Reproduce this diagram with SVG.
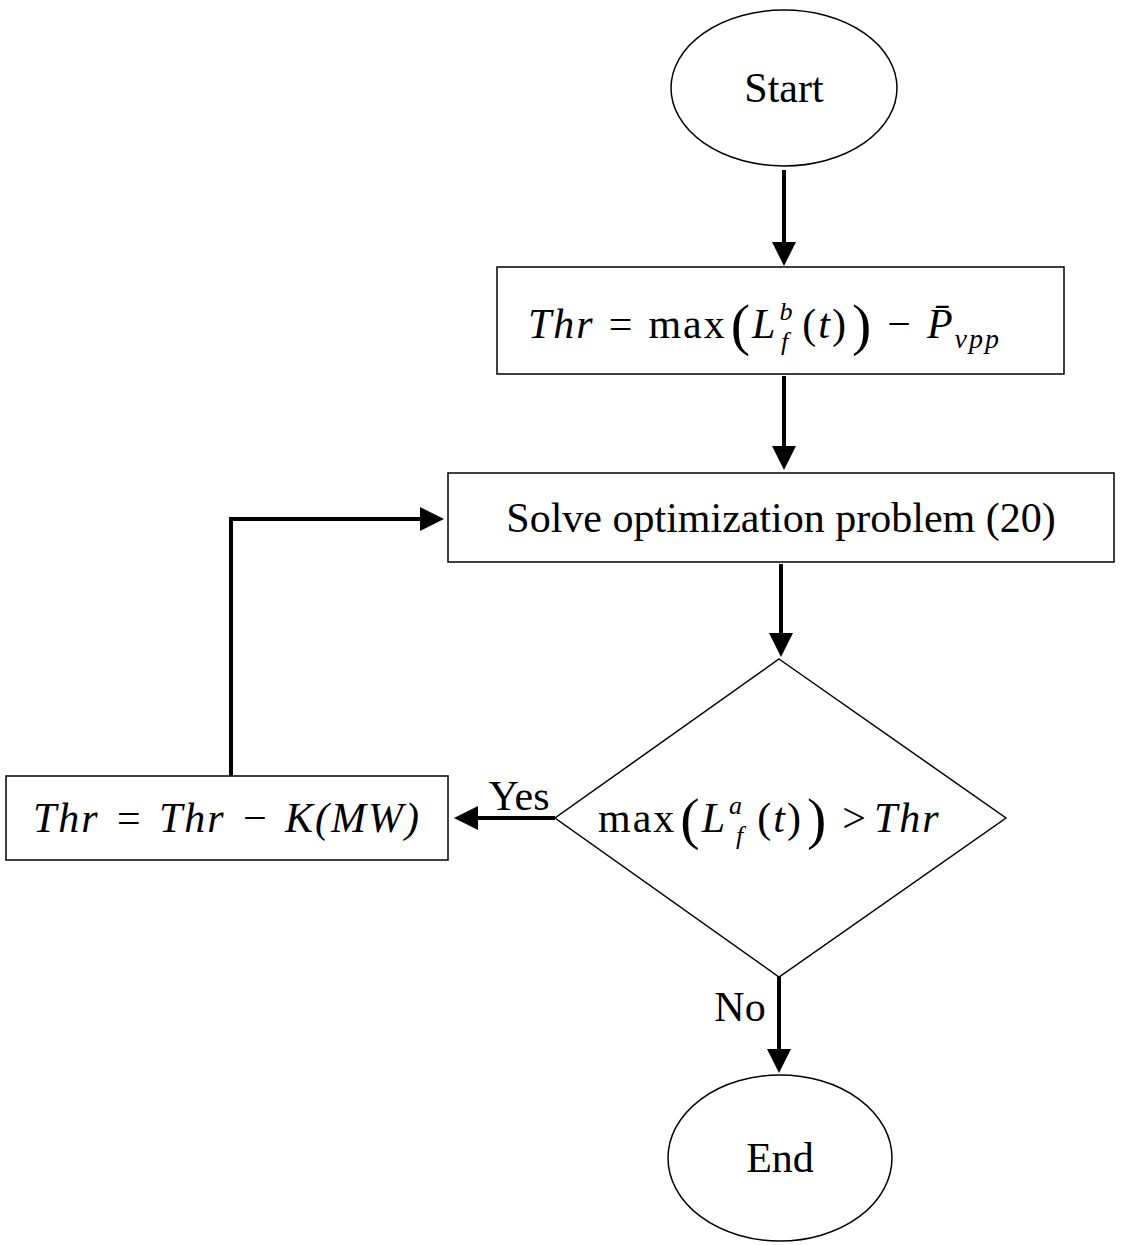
<svg xmlns="http://www.w3.org/2000/svg" width="1121" height="1245" viewBox="0 0 1121 1245">
<style>
.s{fill:#fff;stroke:#000;stroke-width:1.5}
.t{font-family:"Liberation Serif",serif;font-size:42px;fill:#000}
.m{font-family:"Liberation Serif",serif;font-size:42px;fill:#000;letter-spacing:2px}
.i{font-style:italic}
.c{fill:none;stroke:#000;stroke-width:4}
</style>
<defs><marker id="a" markerWidth="6" markerHeight="6" refX="5" refY="3" orient="auto" markerUnits="strokeWidth"><path d="M0,0L6,3L0,6z" fill="#000"/></marker></defs>
<rect width="1121" height="1245" fill="#fff"/>
<g id="start"><ellipse class="s" cx="784" cy="88" rx="113" ry="78"/><text class="t" x="784" y="102" text-anchor="middle">Start</text></g>
<g id="thr"><rect class="s" x="497" y="267" width="567" height="107"/>
<text class="m" x="528" y="338"><tspan class="i">Thr</tspan><tspan dx="14">=</tspan><tspan dx="14">max</tspan><tspan font-size="58" dx="4" dy="6">(</tspan><tspan class="i" dy="-6">L</tspan><tspan class="i" font-size="26" dx="2" dy="-18">b</tspan></text>
<text class="m" x="781" y="350"><tspan class="i" font-size="26">f</tspan><tspan dx="12" dy="-12">(</tspan><tspan class="i">t</tspan>)<tspan font-size="58" dx="4" dy="6">)</tspan><tspan dx="14" dy="-6">−</tspan><tspan class="i" dx="14">P̄</tspan><tspan class="i" font-size="28" dy="10">vpp</tspan></text></g>
<g id="solve"><rect class="s" x="448" y="473" width="666" height="89"/><text class="t" x="781" y="532" text-anchor="middle">Solve optimization problem (20)</text></g>
<g id="dec"><polygon class="s" points="779,659 1006,818 779,977 555,818"/>
<text class="m" x="598" y="832">max<tspan font-size="58" dx="4" dy="6">(</tspan><tspan class="i" dy="-6">L</tspan><tspan class="i" font-size="26" dx="2" dy="-18">a</tspan></text>
<text class="m" x="736" y="844"><tspan class="i" font-size="26">f</tspan><tspan dx="12" dy="-12">(</tspan><tspan class="i">t</tspan>)<tspan font-size="58" dx="4" dy="6">)</tspan><tspan dx="14" dy="-6">&gt;</tspan><tspan class="i" dx="6">Thr</tspan></text></g>
<g id="upd"><rect class="s" x="6" y="776" width="442" height="84"/><text class="m i" x="227" y="832" text-anchor="middle" word-spacing="2">Thr = Thr − K(MW)</text></g>
<g id="end"><ellipse class="s" cx="780" cy="1158" rx="112" ry="83"/><text class="t" x="780" y="1172" text-anchor="middle">End</text></g>
<g id="connectors">
<path class="c" d="M784,170V262" marker-end="url(#a)"/>
<path class="c" d="M784,376V466" marker-end="url(#a)"/>
<path class="c" d="M781,564V653" marker-end="url(#a)"/>
<path class="c" d="M555,818H458" marker-end="url(#a)"/>
<path class="c" d="M231,776V519H440" marker-end="url(#a)"/>
<path class="c" d="M779,977V1069" marker-end="url(#a)"/>
<text class="t" x="519" y="810" text-anchor="middle">Yes</text>
<text class="t" x="740" y="1021" text-anchor="middle">No</text>
</g>
</svg>
